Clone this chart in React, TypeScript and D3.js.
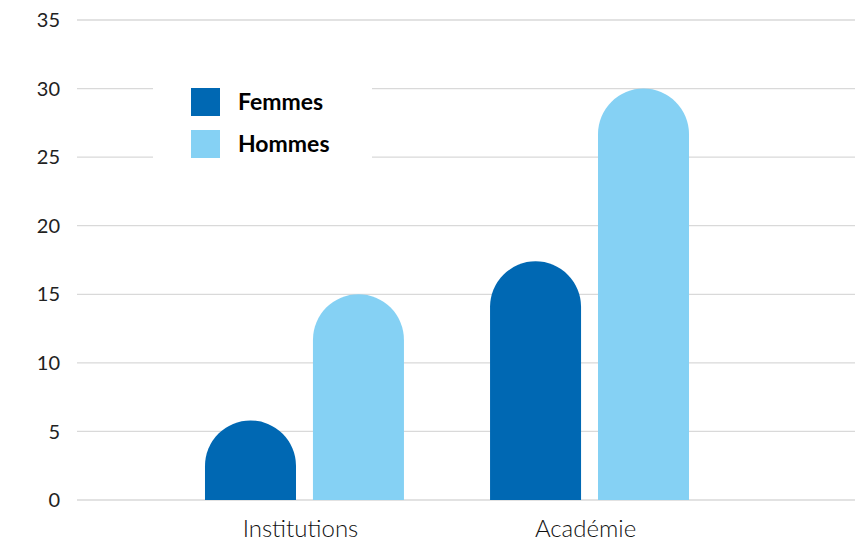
import { useEffect, useRef } from "react";
import * as d3 from "d3";

const categories = ["Institutions", "Académie"];
const series = ["Femmes", "Hommes"];
const femmes = [5.8, 17.4];
const hommes = [15, 30];
const yTicks = [0, 5, 10, 15, 20, 25, 30, 35];
const colors = ["#0068b3", "#85d1f4"];

const W = 855;
const H = 542;
const FONT = "Lato, 'Open Sans', sans-serif";

export default function App() {
  const ref = useRef<SVGSVGElement | null>(null);

  useEffect(() => {
    if (!ref.current) return;
    const svg = d3.select(ref.current);
    svg.selectAll("*").remove();

    const y = d3.scaleLinear().domain([0, 35]).range([500, 20]);
    const x0 = d3.scaleBand<string>().domain(categories).range([77, 817])
      .paddingInner(0.302).paddingOuter(0.449);
    const x1 = d3.scaleBand<string>().domain(series).range([0, x0.bandwidth()])
      .paddingInner(0.157).paddingOuter(0);
    const color = d3.scaleOrdinal<string, string>().domain(series).range(colors);

    // gridlines + tick labels
    const grid = svg.append("g");
    grid.selectAll("line").data(yTicks).join("line")
      .attr("x1", 77).attr("x2", W)
      .attr("y1", d => y(d)).attr("y2", d => y(d))
      .attr("stroke", "#d9d9d9").attr("stroke-width", 1.3);
    grid.selectAll("text").data(yTicks).join("text")
      .attr("x", 60).attr("y", d => y(d)).attr("dy", "0.36em")
      .attr("text-anchor", "end")
      .attr("font-family", FONT).attr("font-size", 20).attr("fill", "#222")
      .text(d => d);

    // bars with rounded tops
    const rows = categories.map((c, i) => ({ c, vals: [femmes[i], hommes[i]] }));
    const g = svg.append("g");
    rows.forEach(row => {
      series.forEach((s, j) => {
        const bx = (x0(row.c) ?? 0) + (x1(s) ?? 0);
        const w = x1.bandwidth();
        const r = w / 2;
        const top = y(row.vals[j]);
        const base = y(0);
        const path = d3.path();
        path.moveTo(bx, base);
        path.lineTo(bx, top + r);
        path.arc(bx + r, top + r, r, Math.PI, 0);
        path.lineTo(bx + w, base);
        path.closePath();
        g.append("path").attr("d", path.toString()).attr("fill", color(s));
      });
    });

    // category labels
    svg.append("g").selectAll("text").data(categories).join("text")
      .attr("x", d => (x0(d) ?? 0) + x0.bandwidth() / 2 - 4)
      .attr("y", 537)
      .attr("text-anchor", "middle")
      .attr("font-family", FONT).attr("font-size", 24).attr("font-weight", 300)
      .attr("fill", "#111")
      .text(d => d);

    // legend
    const lg = svg.append("g");
    lg.append("rect").attr("x", 153).attr("y", 66).attr("width", 219).attr("height", 106).attr("fill", "#fff");
    series.forEach((s, i) => {
      lg.append("rect").attr("x", 191).attr("y", 88 + i * 42).attr("width", 29).attr("height", 28).attr("fill", color(s));
      lg.append("text").attr("x", 238).attr("y", 110 + i * 42)
        .attr("font-family", FONT).attr("font-size", 23).attr("font-weight", 700)
        .attr("fill", "#000").text(s);
    });
  }, []);

  return (
    <svg ref={ref} width={W} height={H}
      style={{ position: "absolute", left: 0, top: 0, background: "#fff" }} />
  );
}
